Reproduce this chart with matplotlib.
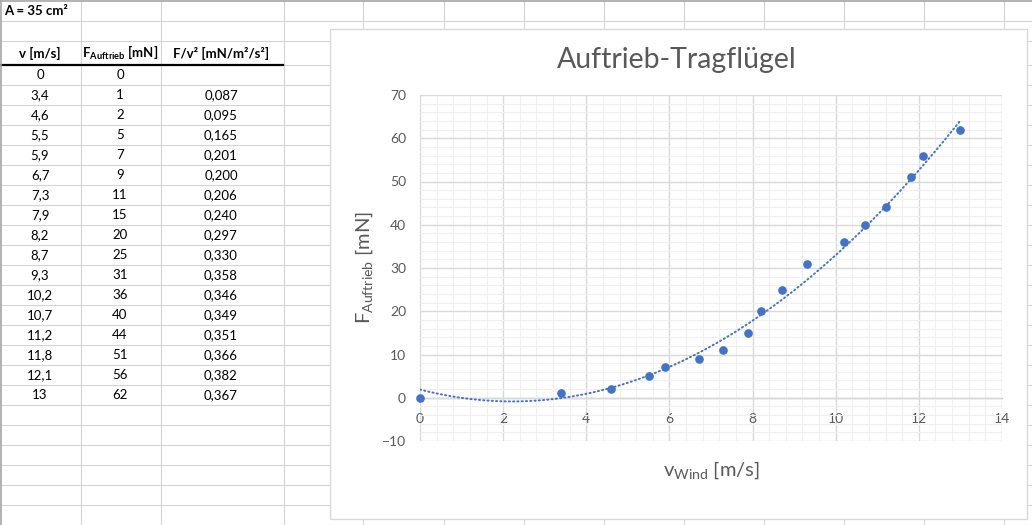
import numpy as np
import matplotlib
matplotlib.use("Agg")
import matplotlib.pyplot as plt
from matplotlib.patches import Rectangle

# ---------------- data ----------------
v_wind = [0, 3.4, 4.6, 5.5, 5.9, 6.7, 7.3, 7.9, 8.2, 8.7, 9.3, 10.2, 10.7, 11.2, 11.8, 12.1, 13]
f_auftrieb = [0, 1, 2, 5, 7, 9, 11, 15, 20, 25, 31, 36, 40, 44, 51, 56, 62]
f_over_v2 = ["", "0,087", "0,095", "0,165", "0,201", "0,200", "0,206", "0,240", "0,297",
             "0,330", "0,358", "0,346", "0,349", "0,351", "0,366", "0,382", "0,367"]
v_labels = ["0", "3,4", "4,6", "5,5", "5,9", "6,7", "7,3", "7,9", "8,2", "8,7", "9,3",
            "10,2", "10,7", "11,2", "11,8", "12,1", "13"]
# order-2 polynomial trendline as drawn in the chart (coefficients)
trend_coef = [0.559, -2.482, 1.9]
x_ticks = [0, 2, 4, 6, 8, 10, 12, 14]
y_ticks = [-10, 0, 10, 20, 30, 40, 50, 60, 70]
area_label = "A = 35 cm²"
chart_title = "Auftrieb-Tragflügel"

plt.rcParams["font.family"] = ["Lato", "DejaVu Sans"]
plt.rcParams["mathtext.fontset"] = "custom"
plt.rcParams["mathtext.rm"] = "Lato"
plt.rcParams["mathtext.it"] = "Lato"
plt.rcParams["mathtext.bf"] = "Lato:bold"

W, H = 1032, 525
fig = plt.figure(figsize=(W / 100, H / 100), dpi=100)
fig.patch.set_facecolor("white")

# ---------------- spreadsheet background ----------------
bg = fig.add_axes([0, 0, 1, 1])
bg.set_xlim(0, W)
bg.set_ylim(H, 0)
bg.axis("off")

grid_c = "#d4d4d4"
col_x = [80, 160, 283, 362, 443, 523, 603, 683, 763, 843, 923, 1003]
for x in col_x:
    bg.plot([x + 0.5, x + 0.5], [0, H], color=grid_c, lw=0.8, zorder=1)
row_y = [20.5, 40.5] + [84.5 + 20 * k for k in range(23)]
for y in row_y:
    bg.plot([0, W], [y, y], color=grid_c, lw=0.8, zorder=1)
bg.plot([283, W], [64.5, 64.5], color=grid_c, lw=0.8, zorder=1)
bg.plot([0, 283], [64.5, 64.5], color="black", lw=1.6, zorder=2)
bg.plot([1, 1], [0, H], color="#a6a6a6", lw=1.2, zorder=2)
bg.plot([0, W], [0.8, 0.8], color="#a6a6a6", lw=1.2, zorder=2)

tfs = 9.5
bg.text(4, 11, area_label, fontsize=tfs, fontweight="bold", ha="left", va="center", zorder=3)
bg.text(40, 53, "v [m/s]", fontsize=tfs, fontweight="bold", ha="center", va="center", zorder=3)
bg.text(120, 53, r"$\mathbf{F_{Auftrieb}}$ [mN]", fontsize=tfs, fontweight="bold",
        ha="center", va="center", zorder=3)
bg.text(221, 53, "F/v² [mN/m²/s²]", fontsize=tfs, fontweight="bold", ha="center", va="center", zorder=3)
for i in range(len(v_labels)):
    yc = 74.8 + 20 * i
    bg.text(40, yc, v_labels[i], fontsize=tfs, ha="center", va="center", zorder=3)
    bg.text(120, yc, str(f_auftrieb[i]), fontsize=tfs, ha="center", va="center", zorder=3)
    bg.text(221, yc, f_over_v2[i], fontsize=tfs, ha="center", va="center", zorder=3)

# chart area box
bg.add_patch(Rectangle((329.5, 28.5), 697, 490, facecolor="white", edgecolor="#d9d9d9",
                       lw=1.0, zorder=10))
txt_c = "#595959"
bg.text(677, 68, chart_title, fontsize=20.5, color=txt_c, ha="center", va="baseline", zorder=11)
bg.text(711, 476, r"v$_{\mathregular{Wind}}$ [m/s]", fontsize=14.5, color=txt_c,
        ha="center", va="baseline", zorder=11)
bg.text(364, 268, r"F$_{\mathregular{Auftrieb}}$ [mN]", fontsize=14.5, color=txt_c,
        ha="center", va="center", rotation=90, zorder=11)

# ---------------- chart ----------------
left, right, top, bottom = 420, 1002, 95, 441
ax = fig.add_axes([left / W, 1 - bottom / H, (right - left) / W, (bottom - top) / H])
ax.set_facecolor("none")
ax.set_xlim(0, 14)
ax.set_ylim(-10, 70)
ax.set_xticks(x_ticks)
ax.set_yticks(y_ticks)
ax.set_xticks(np.arange(0, 14.01, 0.4), minor=True)
ax.set_yticks(np.arange(-10, 70.01, 2), minor=True)
ax.grid(which="minor", color="#efefef", lw=0.8, zorder=0)
ax.grid(which="major", color="#d9d9d9", lw=1.0, zorder=0.5)
for s in ["top", "right", "left"]:
    ax.spines[s].set_visible(False)
ax.spines["bottom"].set_position(("data", 0))
ax.spines["bottom"].set_color("#bfbfbf")
ax.spines["bottom"].set_linewidth(1.0)
ax.spines["bottom"].set_zorder(1)
ax.tick_params(which="both", length=0, labelsize=10, labelcolor=txt_c)
ax.tick_params(axis="x", pad=11)
ax.tick_params(axis="y", pad=10)

# points
ax.plot(v_wind, f_auftrieb, "o", color="#4472C4", ms=5.2, zorder=4, clip_on=False)
# trendline
xs = np.linspace(min(v_wind), max(v_wind), 300)
ax.plot(xs, np.polyval(trend_coef, xs), color="#4472C4", lw=1.4, ls=(0, (0.6, 1.6)),
        dash_capstyle="round", zorder=3)

fig.savefig("out.png", dpi=100)
